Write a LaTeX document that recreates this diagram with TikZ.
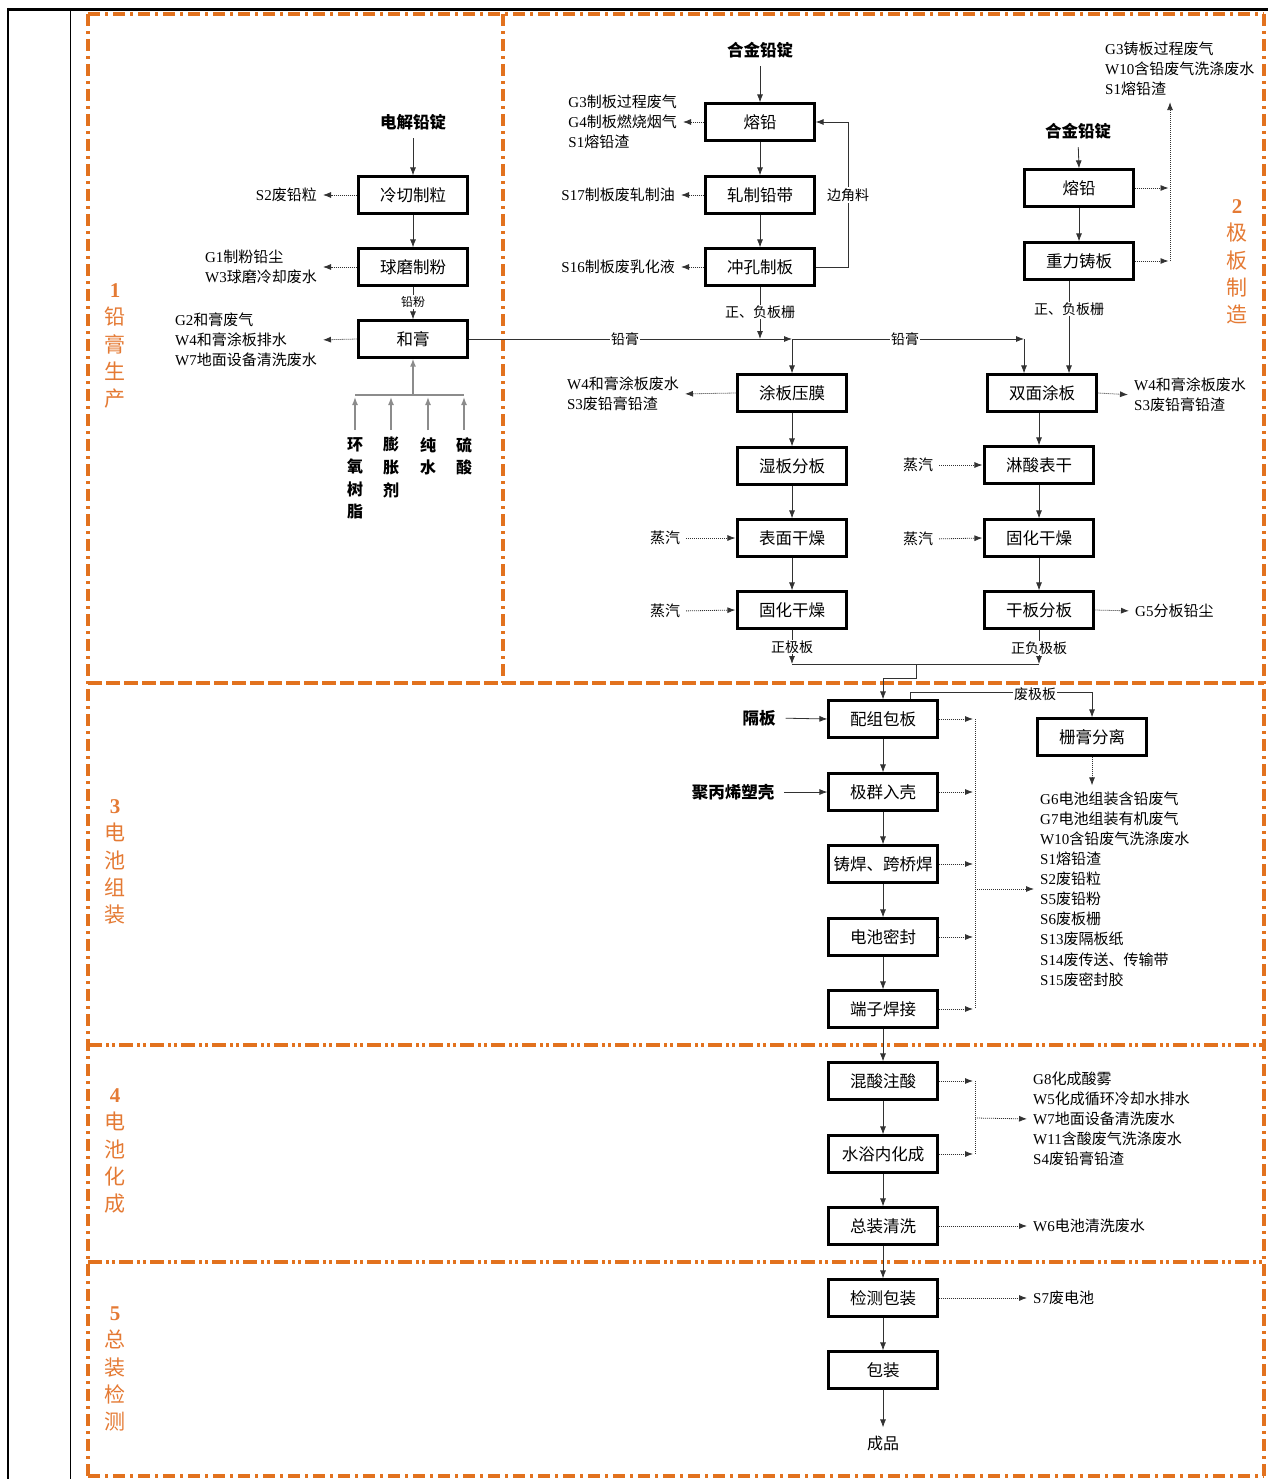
\documentclass[tikz,border=0pt]{standalone}
\usepackage{fontspec}
\setmainfont{Noto Sans CJK SC}
\newfontfamily\lat{Liberation Serif}
\usetikzlibrary{arrows.meta}
\definecolor{frameor}{RGB}{226,114,30}
\definecolor{txtor}{RGB}{228,122,52}
\definecolor{lnc}{RGB}{50,50,50}
\definecolor{grayln}{RGB}{140,140,140}
\newcommand\pf[1]{{\lat #1}}
\tikzset{
  procbox/.style={draw=black, line width=2.2pt, minimum width=109pt, minimum height=37pt, inner sep=0pt, font=\fontsize{16.5}{18}\selectfont},
  flow/.style={draw=lnc, line width=0.8pt, -{Latex[length=8pt,width=6pt]}},
  plainln/.style={draw=lnc, line width=0.8pt},
  gflow/.style={draw=grayln, line width=1.4pt, -{Latex[length=8pt,width=6pt]}},
  gln/.style={draw=grayln, line width=1.4pt},
  waste/.style={draw=lnc, line width=0.8pt, dash pattern=on 1pt off 1pt, -{Latex[length=8pt,width=6pt]}, shorten >=6pt},
  wasteln/.style={draw=lnc, line width=0.8pt, dash pattern=on 1pt off 1pt},
  lbl/.style={inner sep=0pt, align=left, font=\fontsize{15}{20}\selectfont},
  sml/.style={inner sep=1pt, fill=white, font=\fontsize{14}{16}\selectfont},
  inp/.style={inner sep=0pt, font=\fontsize{16.5}{18}\selectfont\bfseries},
  vinp/.style={inner sep=0pt, align=center, font=\fontsize{16}{22.6}\selectfont\bfseries, anchor=north},
  sect/.style={inner sep=0pt, align=center, text=txtor, font=\fontsize{21}{27.3}\selectfont},
  fr/.style={draw=frameor, line width=3.4pt, dash pattern=on 12pt off 5pt on 3pt off 5pt},
  frd/.style={draw=frameor, line width=3.4pt, dash pattern=on 14pt off 4pt},
  frdd/.style={draw=frameor, line width=3.4pt, dash pattern=on 14pt off 4pt on 3pt off 3pt on 3pt off 4pt},
}
\begin{document}
\begin{tikzpicture}[x=1pt,y=-1pt]
\useasboundingbox (0,0) rectangle (1268,1479);
% outer table lines
\draw[line width=2.6pt] (7,9.5) -- (1268,9.5);
\draw[line width=2pt] (8,8) -- (8,1479);
\draw[line width=1pt] (70,9) -- (70,1479);
% orange frames
\draw[fr] (88,14) -- (1264,14);
\draw[fr] (88,14) -- (88,1476);
\draw[fr] (1264,14) -- (1264,1476);
\draw[fr] (503,14) -- (503,683);
\draw[frd] (88,683) -- (1264,683);
\draw[frdd] (88,1045) -- (1264,1045);
\draw[frdd] (88,1262) -- (1264,1262);
\draw[fr] (88,1476) -- (1264,1476);
% section labels
\node[sect] (L1) at (115,346) {{\lat\bfseries 1}\\铅\\膏\\生\\产};
\node[sect] (L2) at (1237,262) {{\lat\bfseries 2}\\极\\板\\制\\造};
\node[sect] (L3) at (115,862) {{\lat\bfseries 3}\\电\\池\\组\\装};
\node[sect] (L4) at (115,1151) {{\lat\bfseries 4}\\电\\池\\化\\成};
\node[sect] (L5) at (115,1369) {{\lat\bfseries 5}\\总\\装\\检\\测};

% ===== section 1 =====
\node[inp] (djqd) at (413,122) {电解铅锭};
\node[procbox] (lq) at (413,195) {冷切制粒};
\node[procbox] (qm) at (413,267) {球磨制粉};
\node[procbox] (hg) at (413,339) {和膏};
\draw[flow, shorten <=8pt] (djqd.south) -- (lq.north);
\draw[flow] (lq) -- (qm);
\draw[flow] (qm) -- (hg);
\node[sml, font=\fontsize{12}{14}\selectfont] (qf) at (413,302) {铅粉};
\node[lbl, anchor=east] (s2) at (317,195) {\pf{S2}废铅粒};
\node[lbl, anchor=east] (g1) at (317,267) {\pf{G1}制粉铅尘\\\pf{W3}球磨冷却废水};
\node[lbl, anchor=east] (g2) at (317,340) {\pf{G2}和膏废气\\\pf{W4}和膏涂板排水\\\pf{W7}地面设备清洗废水};
\draw[waste] (lq.west) -- (s2.east);
\draw[waste] (qm.west) -- (g1.east);
\draw[waste] (hg.west) -- (g2.east);
\node[vinp] (hy) at (355,437) {环\\氧\\树\\脂};
\node[vinp] (pz) at (391,437) {膨\\胀\\剂};
\node[vinp] (cs) at (428,437) {纯\\水};
\node[vinp] (ls) at (464,437) {硫\\酸};
\coordinate (m0) at (413,395);
\draw[gln] (hy.north |- m0) -- (ls.north |- m0);
\foreach \n in {hy,pz,cs,ls} \draw[gflow, shorten <=7pt, shorten >=2pt] (\n.north) -- (\n.north |- m0);
\draw[gflow] (m0) -- (hg.south);

% ===== section 2 left =====
\node[inp] (hj1) at (760,50) {合金铅锭};
\node[procbox] (rq1) at (760,122) {熔铅};
\node[procbox] (zz) at (760,195) {轧制铅带};
\node[procbox] (ck) at (760,267) {冲孔制板};
\draw[flow, shorten <=8pt] (hj1.south) -- (rq1.north);
\draw[flow] (rq1) -- (zz);
\draw[flow] (zz) -- (ck);
\draw[flow] (ck.east) -- ++(33,0) |- (rq1.east);
\node[sml] (bjl) at (848,195) {边角料};
\node[lbl, anchor=east] (w1) at (677,122) {\pf{G3}制板过程废气\\\pf{G4}制板燃烧烟气\\\pf{S1}熔铅渣};
\node[lbl, anchor=east] (s17) at (675,195) {\pf{S17}制板废轧制油};
\node[lbl, anchor=east] (s16) at (675,267) {\pf{S16}制板废乳化液};
\draw[waste] (rq1.west) -- (w1.east);
\draw[waste] (zz.west) -- (s17.east);
\draw[waste] (ck.west) -- (s16.east);

\coordinate (k1) at (792,339);
\coordinate (k2) at (1024,339);
\draw[flow] (hg.east) -- (k1);
\draw[flow] (k1) -- (k2);
\draw[flow] (ck.south) -- (ck.south |- k1);
\node[sml] (qg1) at (625,339) {铅膏};
\node[sml] (qg2) at (905,339) {铅膏};
\node[sml] (zfb1) at (760,312) {正、负板栅};

\node[procbox] (tb) at (792,393) {涂板压膜};
\node[procbox] (sb) at (792,466) {湿板分板};
\node[procbox] (bm) at (792,538) {表面干燥};
\node[procbox] (gh1) at (792,610) {固化干燥};
\draw[flow] (k1) -- (tb.north);
\draw[flow] (tb) -- (sb);
\draw[flow] (sb) -- (bm);
\draw[flow] (bm) -- (gh1);
\node[lbl, anchor=east] (w4L) at (679,394) {\pf{W4}和膏涂板废水\\\pf{S3}废铅膏铅渣};
\draw[waste] (tb.west) -- (w4L.east);
\node[lbl] (zq1) at (665,538) {蒸汽};
\node[lbl] (zq2) at (665,611) {蒸汽};
\draw[waste, shorten <=6pt, shorten >=1pt] (zq1.east) -- (bm.west);
\draw[waste, shorten <=6pt, shorten >=1pt] (zq2.east) -- (gh1.west);

% ===== section 2 right =====
\node[inp] (hj2) at (1078,131) {合金铅锭};
\node[procbox] (rq2) at (1079,188) {熔铅};
\node[procbox] (zl) at (1079,261) {重力铸板};
\draw[flow, shorten <=8pt] (hj2.south) -- (rq2.north);
\draw[flow] (rq2) -- (zl);
\node[lbl, anchor=west] (w2) at (1105,69) {\pf{G3}铸板过程废气\\\pf{W10}含铅废气洗涤废水\\\pf{S1}熔铅渣};
\coordinate (v1) at (1170,188);
\coordinate (v2) at (1170,261);
\draw[waste, shorten >=1.5pt] (rq2.east) -- (v1);
\draw[waste, shorten >=1.5pt] (zl.east) -- (v2);
\draw[waste] (v2) -- (v2 |- w2.south);

\node[procbox] (sm) at (1042,393) {双面涂板};
\node[procbox] (ls2) at (1039,465) {淋酸表干};
\node[procbox] (gh2) at (1039,538) {固化干燥};
\node[procbox] (gf) at (1039,610) {干板分板};
\draw[flow] (k2) -- (k2 |- sm.north);
\draw[flow] ([xshift=-10pt]zl.south) -- ([xshift=-10pt]zl.south |- sm.north);
\node[sml] (zfb2) at (1069,309) {正、负板栅};
\draw[flow] (ls2.north |- sm.south) -- (ls2.north);
\draw[flow] (ls2) -- (gh2);
\draw[flow] (gh2) -- (gf);
\node[lbl, anchor=west] (w4R) at (1134,395) {\pf{W4}和膏涂板废水\\\pf{S3}废铅膏铅渣};
\draw[waste] (sm.east) -- (w4R.west);
\node[lbl] (zq3) at (918,465) {蒸汽};
\node[lbl] (zq4) at (918,539) {蒸汽};
\draw[waste, shorten <=6pt, shorten >=1pt] (zq3.east) -- (ls2.west);
\draw[waste, shorten <=6pt, shorten >=1pt] (zq4.east) -- (gh2.west);
\node[lbl, anchor=west] (g5) at (1135,611) {\pf{G5}分板铅尘};
\draw[waste] (gf.east) -- (g5.west);

% junction to assembly
\coordinate (j1) at (792,664);
\coordinate (j2) at (1039,664);
\coordinate (j3) at (916,664);
\draw[flow] (gh1.south) -- (j1);
\draw[flow] (gf.south) -- (j2);
\draw[plainln] (j1) -- (j2);
\node[sml] (zjb) at (792,647) {正极板};
\node[sml] (zfjb) at (1039,648) {正负极板};

% ===== section 3 =====
\node[procbox] (pz1) at (883,719) {配组包板};
\node[procbox] (jq) at (883,792) {极群入壳};
\node[procbox] (zh) at (883,864) {铸焊、跨桥焊};
\node[procbox] (dm) at (883,937) {电池密封};
\node[procbox] (dz) at (883,1009) {端子焊接};
\draw[flow] (j3) -- ++(0,14) -| (pz1.north);
\draw[flow] (pz1) -- (jq);
\draw[flow] (jq) -- (zh);
\draw[flow] (zh) -- (dm);
\draw[flow] (dm) -- (dz);
\node[inp] (gb) at (759,718) {隔板};
\node[inp] (jbx) at (733,792) {聚丙烯塑壳};
\draw[flow, shorten <=10pt] (gb.east) -- (pz1.west);
\draw[flow, shorten <=10pt] (jbx.east) -- (jq.west);
\node[procbox] (sg) at (1092,737) {栅膏分离};
\draw[flow] ([xshift=27pt]pz1.north) -- ++(0,-7) -| (sg.north);
\node[sml] (fjb) at (1035,694) {废极板};
\coordinate (c3) at (975,889);
\foreach \n in {pz1,jq,zh,dm,dz} \draw[waste, shorten >=2pt] (\n.east) -- (\n.east -| c3);
\draw[wasteln] (pz1.east -| c3) -- (dz.east -| c3);
\node[lbl, anchor=west, font=\fontsize{15}{20.1}\selectfont] (l3) at (1040,889) {\pf{G6}电池组装含铅废气\\\pf{G7}电池组装有机废气\\\pf{W10}含铅废气洗涤废水\\\pf{S1}熔铅渣\\\pf{S2}废铅粒\\\pf{S5}废铅粉\\\pf{S6}废板栅\\\pf{S13}废隔板纸\\\pf{S14}废传送、传输带\\\pf{S15}废密封胶};
\draw[waste] (c3) -- (l3.west);
\draw[waste] (sg.south) -- (sg.south |- l3.north);

% ===== section 4 =====
\node[procbox] (hs) at (883,1081) {混酸注酸};
\node[procbox] (sy) at (883,1154) {水浴内化成};
\node[procbox] (zq) at (883,1226) {总装清洗};
\draw[flow] (dz) -- (hs);
\draw[flow] (hs) -- (sy);
\draw[flow] (sy) -- (zq);
\coordinate (c4) at (975,1118);
\foreach \n in {hs,sy} \draw[waste, shorten >=2pt] (\n.east) -- (\n.east -| c4);
\draw[wasteln] (hs.east -| c4) -- (sy.east -| c4);
\node[lbl, anchor=west] (l4) at (1033,1119) {\pf{G8}化成酸雾\\\pf{W5}化成循环冷却水排水\\\pf{W7}地面设备清洗废水\\\pf{W11}含酸废气洗涤废水\\\pf{S4}废铅膏铅渣};
\draw[waste] (c4) -- (l4.west);
\node[lbl, anchor=west] (w6) at (1033,1226) {\pf{W6}电池清洗废水};
\draw[waste] (zq.east) -- (w6.west);

% ===== section 5 =====
\node[procbox] (jc) at (883,1298) {检测包装};
\node[procbox] (bz) at (883,1370) {包装};
\node[inp, font=\fontsize{16}{18}\selectfont] (cp) at (883,1443) {成品};
\draw[flow] (zq) -- (jc);
\draw[flow] (jc) -- (bz);
\draw[flow, shorten >=8pt] (bz) -- (cp);
\node[lbl, anchor=west] (s7) at (1033,1298) {\pf{S7}废电池};
\draw[waste] (jc.east) -- (s7.west);
\end{tikzpicture}
\end{document}
